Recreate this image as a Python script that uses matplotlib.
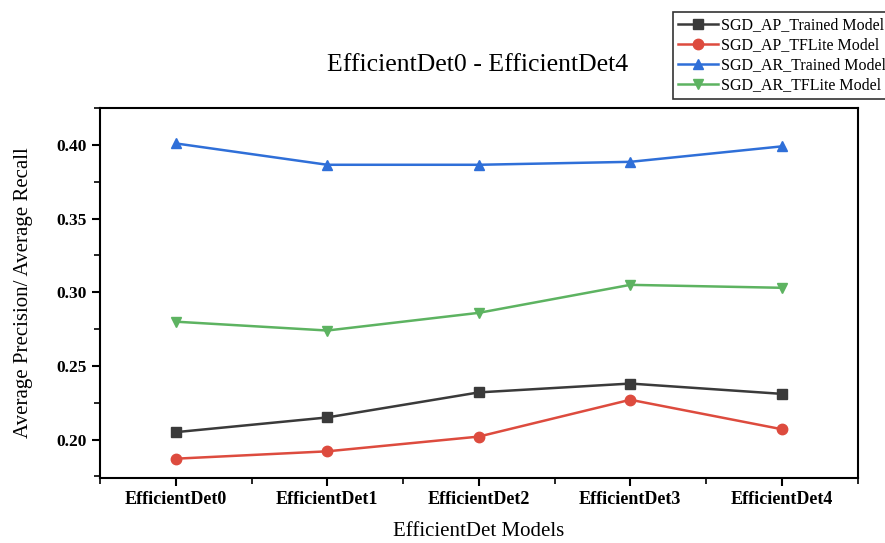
import numpy as np
import matplotlib
matplotlib.use("Agg")
import matplotlib.pyplot as plt
from matplotlib.ticker import MultipleLocator, AutoMinorLocator

plt.rcParams['font.family'] = ['Liberation Serif', 'DejaVu Serif']

# Model names and scores
models = ["EfficientDet0", "EfficientDet1", "EfficientDet2", "EfficientDet3", "EfficientDet4"]
ap_trained = [0.205, 0.215, 0.232, 0.238, 0.231]
ap_tflite = [0.187, 0.192, 0.202, 0.227, 0.207]
ar_trained = [0.401, 0.3865, 0.3865, 0.3885, 0.399]
ar_tflite = [0.280, 0.274, 0.286, 0.305, 0.303]

series = [
    ("SGD_AP_Trained Model", ap_trained, "#3a3a3a", "s"),
    ("SGD_AP_TFLite Model", ap_tflite, "#dd4b3e", "o"),
    ("SGD_AR_Trained Model", ar_trained, "#2f6fd8", "^"),
    ("SGD_AR_TFLite Model", ar_tflite, "#5db361", "v"),
]

fig = plt.figure(figsize=(8.85, 5.43), dpi=100)
ax = fig.add_axes([0.113, 0.12, 0.856, 0.681])

x = np.arange(len(models))
for name, vals, col, mk in series:
    ax.plot(x, vals, color=col, marker=mk, markersize=7.5, linewidth=1.8, label=name)

ax.set_xlim(-0.5, 4.5)
ax.set_ylim(0.174, 0.425)
ax.set_xticks(x)
ax.set_xticklabels(models, fontweight='bold', fontsize=13)
ax.xaxis.set_minor_locator(MultipleLocator(0.5))
ax.yaxis.set_major_locator(MultipleLocator(0.05))
ax.yaxis.set_minor_locator(AutoMinorLocator(2))
ax.set_yticklabels([f"{v:.2f}" for v in ax.get_yticks()], fontweight='bold', fontsize=12.5)
ax.tick_params(which='major', direction='out', length=6, width=1.5)
ax.tick_params(which='minor', direction='out', length=4, width=1.2)
for s in ax.spines.values():
    s.set_linewidth(1.5)

ax.set_xlabel("EfficientDet Models", fontsize=15, labelpad=10)
ax.set_ylabel("Average Precision/ Average Recall", fontsize=15, labelpad=17)
fig.text(0.54, 0.87, "EfficientDet0 - EfficientDet4", fontsize=18.5, ha='center')

leg = fig.legend(loc='upper left', bbox_to_anchor=(0.760, 0.978), borderaxespad=0,
                 fontsize=11.5, frameon=True, fancybox=False, edgecolor='black',
                 handlelength=2.5, borderpad=0.35, labelspacing=0.25, handletextpad=0.2)
leg.get_frame().set_linewidth(1.2)

fig.savefig("out.png", dpi=100)
